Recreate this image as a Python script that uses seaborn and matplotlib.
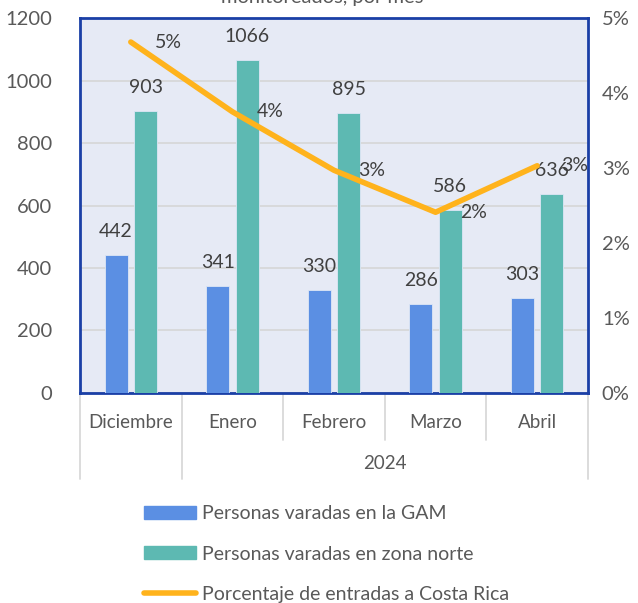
import numpy as np
import pandas as pd
import matplotlib
matplotlib.use('Agg')
import matplotlib.pyplot as plt
from matplotlib.patches import Patch
from matplotlib.lines import Line2D
import seaborn as sns

# data
meses = ['Diciembre', 'Enero', 'Febrero', 'Marzo', 'Abril']
gam = [442, 341, 330, 286, 303]
norte = [903, 1066, 895, 586, 636]
pct_entradas = [0.0468, 0.0375, 0.0297, 0.0241, 0.0303]
serie_gam = 'Personas varadas en la GAM'
serie_norte = 'Personas varadas en zona norte'
serie_pct = 'Porcentaje de entradas a Costa Rica'

c_gam = '#5B8FE3'
c_norte = '#5DB9B2'
c_line = '#FFB31C'
c_text = '#595959'

df = pd.DataFrame({
    'mes': meses * 2,
    'personas': gam + norte,
    'serie': [serie_gam] * len(meses) + [serie_norte] * len(meses),
})

sns.set_style('white')
plt.rcParams['font.family'] = ['Lato', 'DejaVu Sans']

fig = plt.figure(figsize=(6.38, 6.03), dpi=100)
ax = fig.add_axes([0.1254, 0.3483, 0.7962, 0.6218])
ax.set_facecolor('#E6EAF5')

sns.barplot(data=df, x='mes', y='personas', hue='serie', order=meses,
            palette=[c_gam, c_norte], saturation=1, width=0.58, gap=0.22,
            ax=ax, legend=False, edgecolor='#DDE6F5', linewidth=0.6, zorder=3)

ax.set_ylim(0, 1200)
ax.set_yticks(range(0, 1201, 200))
ax.set_xlim(-0.5, len(meses) - 0.5)
ax.grid(axis='y', color='#D6D6D6', linewidth=1.2, zorder=0)
ax.set_axisbelow(True)
ax.set_xlabel('')
ax.set_ylabel('')
for s in ax.spines.values():
    s.set_color('#1A3FA6')
    s.set_linewidth(2)
ax.tick_params(axis='y', length=0, pad=20, labelsize=14.5, labelcolor=c_text)
ax.tick_params(axis='x', length=0, pad=15, labelsize=13.5, labelcolor=c_text)

# value labels above bars
for cont in ax.containers:
    for bar in cont:
        h = bar.get_height()
        ax.annotate(f'{h:.0f}', (bar.get_x() + bar.get_width() / 2, h),
                    xytext=(0, 17), textcoords='offset points',
                    ha='center', va='center', fontsize=14, color='#404040',
                    zorder=6)

# percentage line on the secondary axis
ax2 = ax.twinx()
sns.lineplot(x=np.arange(len(meses)), y=pct_entradas, ax=ax2, color=c_line,
             linewidth=4, solid_capstyle='round', zorder=5)
ax2.set_ylim(0, 0.05)
ax2.set_yticks(np.arange(0, 0.051, 0.01))
ax2.set_yticklabels([f'{v:.0%}' for v in np.arange(0, 0.051, 0.01)])
ax2.tick_params(axis='y', length=0, pad=10, labelsize=14.5, labelcolor=c_text)
for s in ax2.spines.values():
    s.set_visible(False)
for i, v in enumerate(pct_entradas):
    ax2.annotate(f'{v:.0%}', (i, v), xytext=(27, 0), textcoords='offset points',
                 ha='center', va='center', fontsize=14, color='#404040')

# multi-level category axis separators
trans = ax.get_xaxis_transform()
for i in range(len(meses) + 1):
    x = i - 0.5
    low = -0.23 if i in (0, 1, len(meses)) else -0.125
    ax.plot([x, x], [0, low], transform=trans, color='#D9D9D9',
            linewidth=1.3, clip_on=False, zorder=1)
ax.text((0.5 + len(meses) - 0.5) / 2, -0.187, '2024', transform=trans,
        ha='center', va='center', fontsize=13.5, color=c_text)

# cut-off title at the very top
fig.text(0.505, 1 - 3 / 603, 'monitoreados, por mes', ha='center',
         va='baseline', fontsize=14.5, color=c_text)

handles = [Patch(color=c_gam), Patch(color=c_norte),
           Line2D([], [], color=c_line, linewidth=4, solid_capstyle='round')]
fig.legend(handles, [serie_gam, serie_norte, serie_pct], loc='upper left',
           bbox_to_anchor=(0.213, 0.175), frameon=False, fontsize=14,
           handlelength=2.7, handleheight=0.62, handletextpad=0.3,
           labelspacing=1.2, labelcolor=c_text, borderaxespad=0)

fig.savefig('out.png', dpi=100)
